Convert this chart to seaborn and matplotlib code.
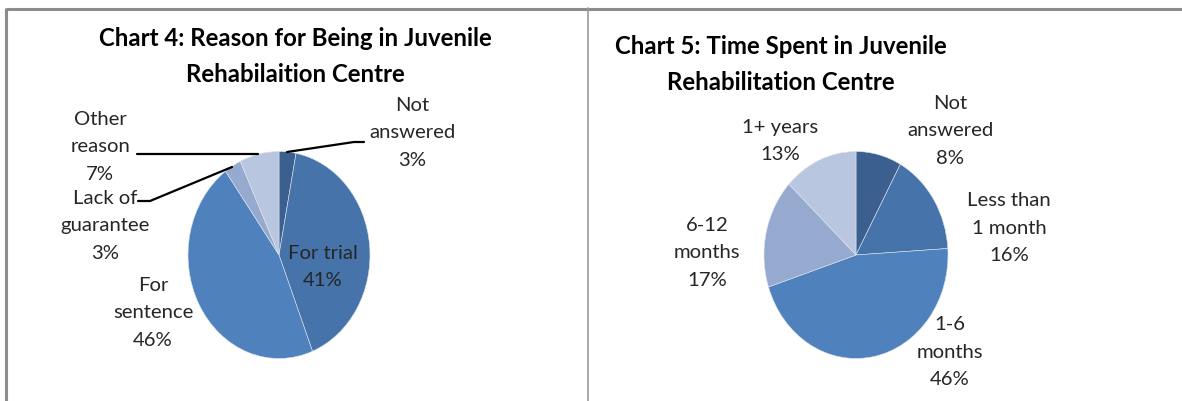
import matplotlib
matplotlib.use("Agg")
import matplotlib.pyplot as plt
import seaborn as sns

# ---------------- data ----------------
reason_labels = ["Not\nanswered", "For trial", "For\nsentence", "Lack of\nguarantee", "Other\nreason"]
reason_values = [3, 41, 46, 3, 7]

time_labels = ["Not\nanswered", "Less than\n1 month", "1-6\nmonths", "6-12\nmonths", "1+ years"]
time_values = [8, 16, 46, 17, 13]

title_left = "Chart 4: Reason for Being in Juvenile\nRehabilaition Centre"
title_right = "Chart 5: Time Spent in Juvenile\nRehabilitation Centre"

# ---------------- style ----------------
sns.set_theme(style="white")
plt.rcParams["font.family"] = ["Lato", "DejaVu Sans"]
palette = ["#3B5F8E", "#4673AA", "#4F81BD", "#96AACF", "#B9C6DF"]

W, H = 1182, 401
fig = plt.figure(figsize=(W / 100, H / 100), dpi=100)

# overlay axes in pixel coordinates for frame, titles, labels, leader lines
ov = fig.add_axes([0, 0, 1, 1])
ov.set_xlim(0, W)
ov.set_ylim(H, 0)
ov.axis("off")
ov.set_zorder(3)
ov.patch.set_alpha(0)

frame_kw = dict(color="#8C8C8C", lw=2.2, solid_capstyle="butt")
ov.plot([6, W], [8.5, 8.5], **frame_kw)
ov.plot([6, 6], [8, H], **frame_kw)
ov.plot([588, 588], [8, H], color="#9A9A9A", lw=1.2)


def pie_axes(cx, cy, rx, ry):
    ax = fig.add_axes([(cx - rx) / W, 1 - (cy + ry) / H, 2 * rx / W, 2 * ry / H])
    ax.set_zorder(2)
    return ax


def draw_pie(ax, values):
    ax.pie(values, colors=palette, startangle=90, counterclock=False,
           wedgeprops=dict(edgecolor="#DDE4EF", linewidth=0.4))
    ax.set_aspect("auto")
    ax.set_xlim(-1, 1)
    ax.set_ylim(-1, 1)
    ax.axis("off")


axL = pie_axes(279, 255, 91, 103.5)
draw_pie(axL, reason_values)
axR = pie_axes(856, 255, 92, 103.5)
draw_pie(axR, time_values)

title_kw = dict(fontsize=17.3, fontweight="bold", color="black", ha="center",
                va="center", linespacing=1.68)
ov.text(295, 56.5, title_left, **title_kw)
ov.text(781, 64.5, title_right, **title_kw)

lab_kw = dict(fontsize=14.6, color="#262626", ha="center", va="center", linespacing=1.73)

left_pos = [(412, 133), (323, 267), (153, 313), (105, 226), (100, 147)]
for lab, v, (x, y) in zip(reason_labels, reason_values, left_pos):
    ov.text(x, y, f"{lab}\n{v}%", **lab_kw)

right_pos = [(950, 131), (1009, 228), (950, 352), (707, 253), (780, 141)]
for lab, v, (x, y) in zip(time_labels, time_values, right_pos):
    ov.text(x, y, f"{lab}\n{v}%", **lab_kw)

# leader lines (left chart)
line_kw = dict(color="black", lw=1.6)
ov.plot([364, 354, 287], [142, 142, 152], **line_kw)
ov.plot([137, 258], [154, 154], **line_kw)
ov.plot([138, 150, 232], [201, 201, 167], **line_kw)

fig.savefig("out.png", dpi=100, facecolor="white")
